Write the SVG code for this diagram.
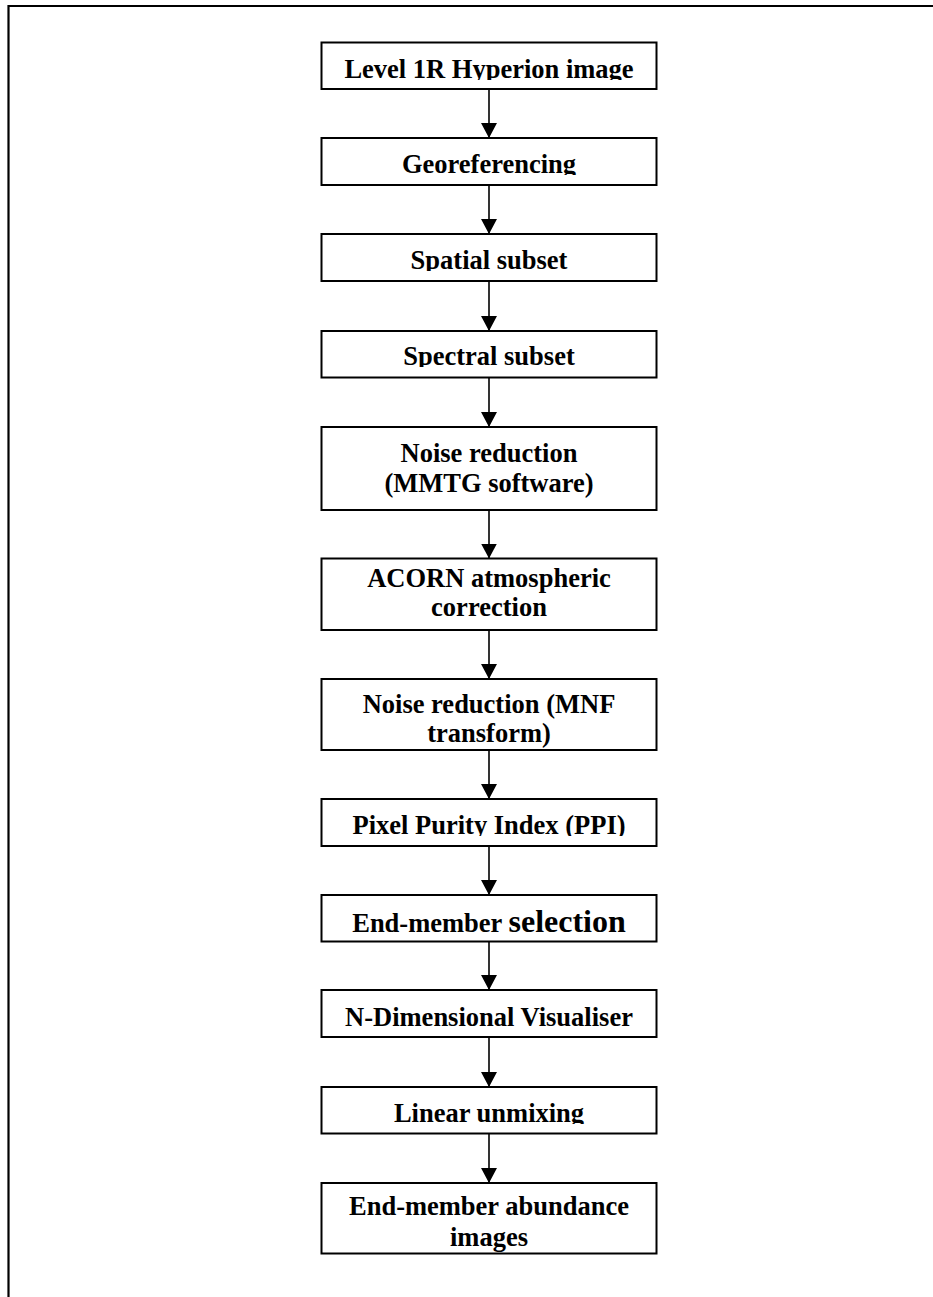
<svg xmlns="http://www.w3.org/2000/svg" width="933" height="1297" viewBox="0 0 933 1297">
<style>
.box{fill:#fff;stroke:#000;stroke-width:2}
.t{font-family:"Liberation Serif","Times New Roman",serif;font-weight:bold;font-size:26.5px;fill:#000;text-anchor:middle}
.big{font-size:32px}
.edge{stroke:#000;stroke-width:1.6;fill:none}
.frame{stroke:#000;stroke-width:2.2;fill:none}
</style>
<defs>
<marker id="ah" markerUnits="userSpaceOnUse" markerWidth="16" markerHeight="16" viewBox="0 0 16 16" refX="15" refY="8" orient="auto">
<path d="M0,0 L15,8 L0,16 Z" fill="#000"/>
</marker>
<clipPath id="c1"><rect x="322" y="43" width="334" height="37"/></clipPath>
<clipPath id="c2"><rect x="322" y="139" width="334" height="36"/></clipPath>
<clipPath id="c3"><rect x="322" y="235" width="334" height="36"/></clipPath>
<clipPath id="c4"><rect x="322" y="332" width="334" height="35"/></clipPath>
<clipPath id="c8"><rect x="322" y="800" width="334" height="36"/></clipPath>
<clipPath id="c11"><rect x="322" y="1088" width="334" height="36"/></clipPath>
</defs>
<rect width="933" height="1297" fill="#fff"/>
<path class="frame" d="M8.5,1297 L8.5,6 L933,6"/>

<g id="connectors">
<line class="edge" x1="489" y1="89" x2="489" y2="138" marker-end="url(#ah)"/>
<line class="edge" x1="489" y1="185" x2="489" y2="234" marker-end="url(#ah)"/>
<line class="edge" x1="489" y1="281" x2="489" y2="331" marker-end="url(#ah)"/>
<line class="edge" x1="489" y1="377.5" x2="489" y2="427" marker-end="url(#ah)"/>
<line class="edge" x1="489" y1="510" x2="489" y2="558.5" marker-end="url(#ah)"/>
<line class="edge" x1="489" y1="630" x2="489" y2="679" marker-end="url(#ah)"/>
<line class="edge" x1="489" y1="750" x2="489" y2="799" marker-end="url(#ah)"/>
<line class="edge" x1="489" y1="846" x2="489" y2="895" marker-end="url(#ah)"/>
<line class="edge" x1="489" y1="941.5" x2="489" y2="990" marker-end="url(#ah)"/>
<line class="edge" x1="489" y1="1037" x2="489" y2="1087" marker-end="url(#ah)"/>
<line class="edge" x1="489" y1="1133.5" x2="489" y2="1183" marker-end="url(#ah)"/>
</g>

<g id="n1"><rect class="box" x="321.5" y="42.5" width="335" height="46.5"/><text class="t" x="489" y="78.3" clip-path="url(#c1)">Level 1R Hyperion image</text></g>
<g id="n2"><rect class="box" x="321.5" y="138" width="335" height="47"/><text class="t" x="489" y="173.3" clip-path="url(#c2)">Georeferencing</text></g>
<g id="n3"><rect class="box" x="321.5" y="234" width="335" height="47"/><text class="t" x="489" y="269.3" clip-path="url(#c3)">Spatial subset</text></g>
<g id="n4"><rect class="box" x="321.5" y="331" width="335" height="46.5"/><text class="t" x="489" y="365" clip-path="url(#c4)">Spectral subset</text></g>
<g id="n5"><rect class="box" x="321.5" y="427" width="335" height="83"/><text class="t" x="489" y="462.3">Noise reduction</text><text class="t" x="489" y="491.7">(MMTG software)</text></g>
<g id="n6"><rect class="box" x="321.5" y="558.5" width="335" height="71.5"/><text class="t" x="489" y="586.7">ACORN atmospheric</text><text class="t" x="489" y="616">correction</text></g>
<g id="n7"><rect class="box" x="321.5" y="679" width="335" height="71"/><text class="t" x="489" y="712.7">Noise reduction (MNF</text><text class="t" x="489" y="741.7">transform)</text></g>
<g id="n8"><rect class="box" x="321.5" y="799" width="335" height="47"/><text class="t" x="489" y="834" clip-path="url(#c8)">Pixel Purity Index (PPI)</text></g>
<g id="n9"><rect class="box" x="321.5" y="895" width="335" height="46.5"/><text class="t" x="489" y="932.3">End-member <tspan class="big">selection</tspan></text></g>
<g id="n10"><rect class="box" x="321.5" y="990" width="335" height="47"/><text class="t" x="489" y="1026">N-Dimensional Visualiser</text></g>
<g id="n11"><rect class="box" x="321.5" y="1087" width="335" height="46.5"/><text class="t" x="489" y="1122.3" clip-path="url(#c11)">Linear unmixing</text></g>
<g id="n12"><rect class="box" x="321.5" y="1183" width="335" height="70.5"/><text class="t" x="489" y="1215">End-member abundance</text><text class="t" x="489" y="1245.7">images</text></g>
</svg>
